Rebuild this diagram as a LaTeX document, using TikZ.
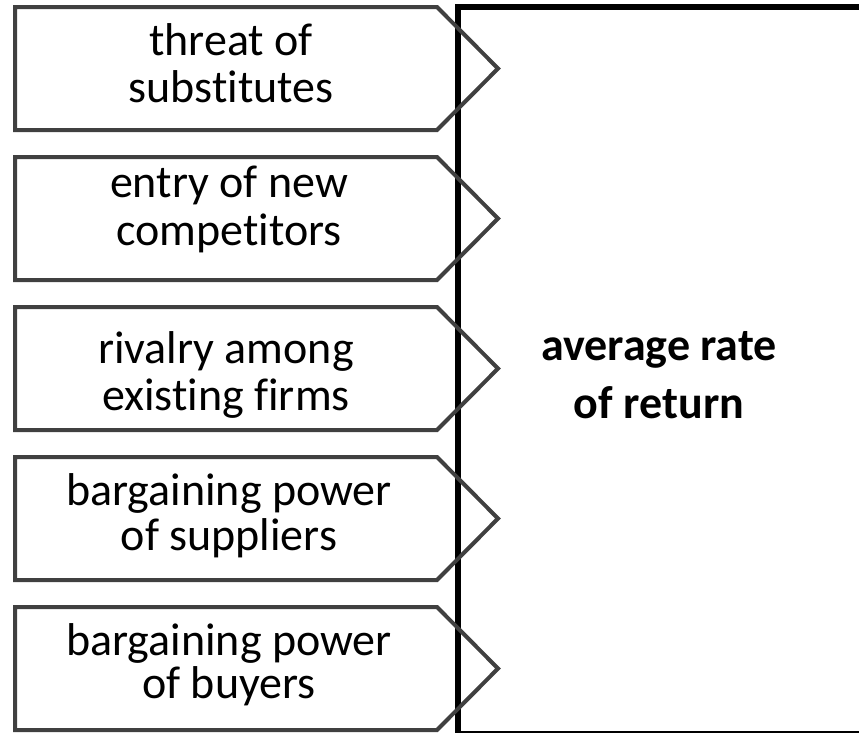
\documentclass[tikz,border=0pt]{standalone}
\usepackage{fontspec}
\setmainfont[Ligatures={NoCommon,NoRare,NoDiscretionary}]{Carlito}
\definecolor{penc}{HTML}{404040}
\begin{document}
\begin{tikzpicture}[x=1pt,y=-1pt,
  pent/.style={draw=penc, line width=4pt, line join=miter},
  lbl/.style={font=\fontsize{46}{47}\selectfont, inner sep=0pt, anchor=base},
  blbl/.style={font=\fontsize{46}{58}\selectfont\bfseries, inner sep=0pt, anchor=base}]
\clip (0,0) rectangle (859,732);
\fill[white] (0,0) rectangle (859,732);
% result box
\draw[line width=6pt, fill=white] (458,6.5) rectangle (862.5,733.5);
\node[blbl] (r1) at (659,360) {average rate};
\node[blbl] (r2) at (659,418) {of return};
% forces
\foreach \t in {7,157,307,457,607}
  \draw[pent] (15,\t) -- (437,\t) -- (498,\t+61.5) -- (437,\t+123) -- (15,\t+123) -- cycle;
\node[lbl] (a1) at (231,55) {threat of};
\node[lbl] (a2) at (231,102) {substitutes};
\node[lbl] (b1) at (229,197) {entry of new};
\node[lbl] (b2) at (229,245) {competitors};
\node[lbl] (c1) at (226,363) {rivalry among};
\node[lbl] (c2) at (226,410) {existing firms};
\node[lbl] (d1) at (229,505) {bargaining power};
\node[lbl] (d2) at (229,550) {of suppliers};
\node[lbl] (e1) at (229,655) {bargaining power};
\node[lbl] (e2) at (229,698) {of buyers};
\end{tikzpicture}
\end{document}
